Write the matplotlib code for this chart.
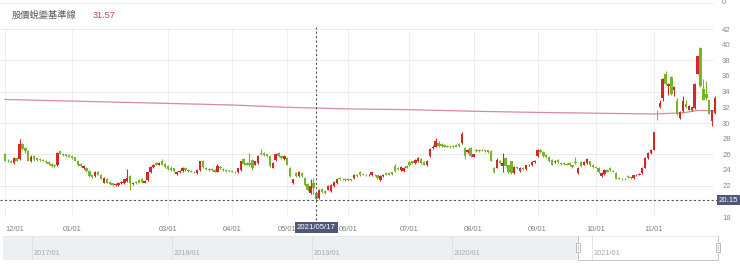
import numpy as np
import pandas as pd
import matplotlib
matplotlib.use('Agg')
import matplotlib.pyplot as plt
from matplotlib.patches import Rectangle
from matplotlib.transforms import blended_transform_factory

# ---------------- data ----------------
start_date = '2020-12-01'
end_date = '2021-11-30'
holidays = ['2021-01-01', '2021-02-08', '2021-02-09', '2021-02-10', '2021-02-11',
            '2021-02-12', '2021-02-15', '2021-02-16', '2021-03-01', '2021-04-02',
            '2021-04-05', '2021-04-30', '2021-06-14', '2021-09-20', '2021-09-21',
            '2021-10-11']

open_ = [
    # Dec
    26.0, 25.2, 25.1, 24.9, 25.5, 25.4, 27.3, 26.8, 26.4, 25.1, 25.8, 25.5, 25.4, 25.3, 25.2, 25.0, 24.8, 24.7, 24.6, 26.4, 26.1, 26.0, 25.9,
    # Jan
    25.8, 25.6, 25.2, 24.8, 24.2, 24.3, 23.9, 23.3, 23.2, 23.8, 23.4, 22.4, 22.9, 22.5, 22.3, 22.1, 22.1, 22.3, 22.3, 22.6,
    # Feb
    23.2, 22.2, 22.5, 22.7, 22.9, 22.4, 22.7, 23.7, 24.4, 24.9, 24.7, 25.1, 24.8,
    # Mar
    24.5, 24.3, 24.2, 23.5, 23.8, 23.9, 24.3, 24.0, 23.9, 23.8, 23.6, 24.0, 25.1, 24.3, 24.1, 24.1, 24.0, 23.8, 24.4, 24.1, 24.0, 23.9,
    # Apr
    23.9, 23.8, 23.7, 24.0, 25.4, 24.9, 24.9, 25.3, 24.7, 24.9, 26.2, 26.2, 26.0, 25.8, 24.3, 25.3, 26.2, 25.8, 25.4,
    # May
    25.5, 24.3, 22.3, 23.6, 23.2, 23.6, 23.0, 22.2, 21.1, 22.3, 21.1, 20.4, 21.6, 21.3, 21.5, 21.3, 21.9, 22.3, 23.0, 22.9, 22.9,
    # Jun
    22.9, 22.8, 23.0, 23.3, 23.8, 23.4, 23.4, 23.3, 23.3, 23.4, 23.3, 22.7, 23.2, 23.6, 23.6, 23.7, 24.5, 24.3, 24.0, 23.9, 24.5,
    # Jul
    25.0, 25.1, 24.9, 25.1, 25.4, 25.0, 24.6, 25.8, 26.8, 27.0, 27.5, 27.3, 27.2, 27.1, 27.0, 27.1, 27.2, 27.3, 27.4, 26.8, 26.3, 26.8,
    # Aug
    25.7, 26.6, 26.6, 26.6, 26.5, 26.5, 26.4, 24.3, 24.3, 25.2, 24.5, 25.5, 24.6, 25.1, 23.6, 24.4, 23.9, 24.3, 24.1, 24.6, 24.6, 25.0,
    # Sep
    25.8, 26.6, 26.3, 25.9, 25.7, 25.3, 25.0, 25.3, 24.9, 24.9, 24.8, 24.9, 24.6, 25.0, 23.6, 25.0, 24.7, 24.9, 25.1, 24.7,
    # Oct
    24.4, 24.3, 23.2, 23.5, 24.0, 24.3, 23.9, 23.6, 23.0, 22.9, 22.9, 23.2, 23.1, 23.0, 23.3, 23.4, 23.6, 24.3, 25.5, 26.2,
    # Nov
    26.6, 31.6, 32.0, 33.2, 36.3, 34.7, 35.9, 34.2, 32.8, 30.7, 31.5, 32.4, 31.7, 31.6, 31.9, 36.3, 39.6, 34.3, 33.7, 32.9, 30.2, 31.3,
]
high = [
    26.2, 25.4, 25.3, 25.6, 25.6, 27.9, 27.5, 27.0, 26.5, 25.9, 25.9, 25.6, 25.5, 25.4, 25.3, 25.1, 24.9, 24.8, 26.3, 26.6, 26.2, 26.1, 26.0,
    25.9, 25.7, 25.3, 24.9, 24.6, 24.4, 24.0, 23.4, 23.9, 23.9, 23.5, 23.1, 23.0, 22.6, 22.4, 22.3, 22.5, 22.6, 22.9, 24.1,
    23.3, 22.5, 22.6, 22.8, 23.0, 22.7, 23.8, 24.5, 24.8, 25.0, 25.0, 25.4, 24.9,
    24.6, 24.5, 24.3, 23.9, 24.0, 24.4, 24.4, 24.1, 24.0, 23.9, 24.1, 25.2, 25.3, 24.4, 24.2, 24.2, 24.1, 24.8, 24.5, 24.2, 24.1, 24.0,
    24.0, 23.9, 24.3, 25.2, 25.5, 25.0, 26.2, 25.4, 25.2, 25.9, 26.7, 26.3, 26.1, 25.9, 25.0, 26.1, 26.3, 25.9, 25.9,
    25.6, 24.4, 22.9, 23.7, 23.9, 23.7, 23.1, 22.3, 22.9, 23.0, 21.2, 21.6, 21.7, 21.4, 22.1, 22.2, 22.6, 22.9, 23.1, 23.0, 23.0,
    23.0, 22.9, 23.5, 23.5, 23.9, 23.5, 23.5, 23.5, 23.8, 23.5, 23.4, 23.3, 23.5, 23.7, 23.7, 23.8, 24.8, 24.4, 24.5, 24.4, 24.6,
    25.1, 25.2, 25.4, 25.6, 25.5, 25.1, 25.3, 26.8, 27.2, 28.1, 27.7, 27.4, 27.3, 27.2, 27.2, 27.2, 27.3, 27.4, 28.8, 26.9, 26.7, 26.9,
    26.1, 26.7, 26.7, 26.7, 26.6, 26.6, 26.5, 24.4, 25.5, 25.3, 26.2, 25.6, 24.7, 25.2, 24.5, 24.5, 24.4, 24.4, 24.7, 24.8, 25.1, 25.3,
    26.7, 26.7, 26.4, 26.0, 25.8, 25.4, 25.3, 25.4, 25.0, 25.0, 24.9, 25.0, 24.7, 25.6, 24.4, 25.1, 25.1, 25.5, 25.2, 24.8,
    24.5, 24.4, 23.7, 24.1, 24.1, 24.4, 24.0, 23.7, 23.1, 23.0, 23.0, 23.3, 23.2, 23.4, 23.5, 23.6, 24.4, 25.6, 26.3, 26.7,
    28.9, 31.6, 32.9, 35.8, 36.6, 35.1, 36.0, 34.7, 33.2, 31.5, 33.5, 33.0, 32.3, 32.1, 35.1, 38.6, 39.7, 35.6, 35.4, 33.0, 31.7, 33.5,
]
low = [
    25.1, 25.0, 24.9, 24.8, 25.1, 25.3, 26.5, 26.2, 25.1, 25.0, 25.2, 25.2, 25.2, 25.1, 24.9, 24.7, 24.4, 24.4, 24.5, 26.0, 25.8, 25.7, 25.6,
    25.4, 25.1, 24.5, 24.4, 24.1, 23.8, 23.1, 23.0, 23.1, 23.3, 22.8, 22.3, 22.3, 22.1, 22.0, 22.0, 22.0, 22.2, 22.2, 22.5,
    21.5, 22.1, 22.2, 22.3, 22.4, 22.3, 22.6, 23.6, 24.3, 24.6, 24.6, 24.6, 24.3,
    24.0, 23.9, 23.8, 23.4, 23.6, 23.8, 23.9, 23.8, 23.7, 23.6, 23.5, 23.9, 24.3, 24.0, 23.9, 23.9, 23.7, 23.7, 24.1, 23.9, 23.8, 23.8,
    23.7, 23.6, 23.6, 23.9, 24.7, 24.6, 24.5, 24.0, 24.6, 24.8, 25.9, 25.8, 25.7, 24.4, 24.2, 25.2, 25.7, 25.4, 25.3,
    24.6, 23.1, 22.2, 23.1, 23.1, 23.1, 22.0, 21.3, 21.0, 20.9, 20.15, 20.3, 21.1, 21.0, 21.4, 21.2, 21.8, 22.2, 22.7, 22.7, 22.6,
    22.6, 22.6, 22.9, 23.1, 23.2, 23.3, 23.2, 23.2, 23.2, 23.2, 22.9, 22.6, 23.1, 23.3, 23.3, 23.4, 23.8, 24.0, 23.9, 23.8, 24.2,
    24.5, 24.8, 24.8, 25.0, 24.8, 24.6, 24.5, 25.7, 26.7, 26.9, 27.0, 27.0, 26.9, 26.9, 26.8, 26.8, 26.9, 27.0, 27.3, 25.4, 26.2, 25.7,
    25.6, 26.3, 26.3, 26.4, 26.3, 26.2, 25.1, 23.6, 24.2, 24.8, 23.8, 24.4, 23.6, 23.5, 23.5, 24.1, 23.8, 24.0, 24.0, 24.5, 24.5, 24.9,
    25.7, 26.2, 25.7, 25.5, 25.0, 24.6, 24.9, 24.9, 24.7, 24.7, 24.6, 24.5, 24.3, 24.8, 23.5, 24.4, 24.6, 24.8, 24.5, 24.3,
    24.2, 23.6, 23.1, 23.4, 23.7, 23.9, 23.7, 22.8, 22.8, 22.7, 22.7, 23.0, 22.9, 22.9, 23.2, 23.3, 23.5, 24.2, 25.4, 26.1,
    26.5, 30.4, 31.9, 32.8, 34.9, 33.6, 33.6, 33.5, 31.0, 30.5, 31.4, 31.9, 31.6, 31.5, 31.8, 36.2, 34.6, 32.9, 33.0, 31.1, 29.6, 31.2,
]
close = [
    25.2, 25.1, 25.0, 25.5, 25.2, 27.3, 26.7, 26.4, 25.2, 25.7, 25.4, 25.3, 25.3, 25.2, 25.0, 24.8, 24.5, 24.5, 26.2, 26.1, 25.9, 25.8, 25.7,
    25.5, 25.2, 24.6, 24.5, 24.5, 23.9, 23.2, 23.1, 23.8, 23.4, 22.9, 23.0, 22.4, 22.2, 22.1, 22.2, 22.4, 22.5, 22.8, 23.0,
    22.3, 22.4, 22.3, 22.4, 22.5, 22.6, 23.7, 24.4, 24.7, 24.7, 24.9, 24.7, 24.4,
    24.1, 24.0, 23.9, 23.8, 23.9, 24.3, 24.0, 23.9, 23.8, 23.7, 24.0, 25.1, 24.4, 24.1, 24.0, 24.0, 23.8, 24.5, 24.2, 24.0, 23.9, 23.9,
    23.8, 23.7, 24.2, 25.1, 24.8, 24.7, 24.6, 24.3, 25.1, 25.8, 26.0, 25.9, 25.8, 24.5, 24.9, 26.0, 25.8, 25.5, 25.8,
    24.7, 23.2, 22.9, 23.2, 23.8, 23.2, 22.1, 21.4, 21.9, 21.7, 20.3, 21.5, 21.2, 21.1, 22.0, 22.1, 22.5, 22.8, 22.8, 22.8, 22.7,
    22.7, 22.7, 23.4, 23.2, 23.3, 23.4, 23.3, 23.4, 23.7, 23.3, 23.0, 23.2, 23.4, 23.4, 23.4, 23.5, 23.9, 24.1, 24.4, 24.3, 24.3,
    24.6, 24.9, 25.3, 25.5, 24.9, 24.7, 25.2, 26.7, 27.0, 27.7, 27.1, 27.1, 27.0, 27.0, 26.9, 26.9, 27.0, 27.1, 28.6, 25.8, 26.6, 25.8,
    26.0, 26.4, 26.4, 26.5, 26.4, 26.3, 25.2, 23.7, 25.3, 24.9, 24.9, 24.5, 23.8, 23.6, 24.4, 24.2, 24.3, 24.1, 24.6, 24.7, 25.0, 25.2,
    26.6, 26.3, 25.8, 25.6, 25.1, 24.7, 25.2, 25.0, 24.8, 24.8, 24.7, 24.6, 24.4, 24.9, 24.3, 24.5, 25.0, 25.4, 24.6, 24.4,
    24.3, 23.7, 23.6, 24.0, 23.8, 24.0, 23.8, 22.9, 22.9, 22.8, 22.8, 23.1, 23.0, 23.3, 23.4, 23.5, 24.3, 25.5, 26.2, 26.6,
    28.8, 31.6, 32.6, 35.6, 35.0, 35.0, 33.7, 34.6, 31.1, 31.4, 32.8, 32.0, 32.2, 32.0, 35.0, 38.5, 34.7, 33.0, 33.2, 31.2, 31.6, 33.2,
]

# 股價蛻變基準線 (reference line) values at anchor dates
base_dates = ['2020-12-01', '2021-01-04', '2021-03-02', '2021-04-01', '2021-05-03',
              '2021-06-01', '2021-07-01', '2021-08-02', '2021-09-01', '2021-10-01',
              '2021-11-01', '2021-11-15', '2021-11-22', '2021-11-30']
base_values = [33.0, 32.8, 32.5, 32.3, 32.0, 31.8, 31.7, 31.5, 31.35, 31.25,
               31.15, 31.3, 31.6, 31.57]

month_labels = ['12/01', '01/01', '03/01', '04/01', '05/01', '06/01',
                '07/01', '08/01', '09/01', '10/01', '11/01']
y_ticks = [18, 20, 22, 24, 26, 28, 30, 32, 34, 36, 38, 40, 42]
grid_levels = [18, 22, 26, 30, 34, 38, 42]
nav_years = [2017, 2018, 2019, 2020, 2021]
nav_labels = ['2017/01', '2018/01', '2019/01', '2020/01', '2021/01']
nav_window = [2020.9, 2021.9]

header_label = '股價蛻變基準線'
header_value = '31.57'
cross_date = '2021-05-17'
cross_price = 20.15

# ---------------- build ----------------
dates = pd.bdate_range(start_date, end_date)
dates = dates[~dates.isin(pd.to_datetime(holidays))]
n = len(dates)
x = np.arange(n)
o = np.array(open_); h = np.array(high); l = np.array(low); c = np.array(close)

RED = '#cf2a26'
GREEN = '#76b52a'
cols = np.where(c > o, RED, np.where(c < o, GREEN, '#8fae6a'))

W, H = 740, 270
fig = plt.figure(figsize=(W / 100, H / 100), dpi=100)
fig.patch.set_facecolor('white')

LATIN = ['Liberation Sans', 'DejaVu Sans']
CJK = ['Noto Sans CJK TC', 'DejaVu Sans']

px_per_day = 2.91
x0 = 5
left_lim = -x0 / px_per_day
right_px = 718
right_lim = (right_px - x0) / px_per_day

ax = fig.add_axes([0, 1 - 217 / H, right_px / W, (217 - 29) / H])
ax.set_xlim(left_lim, right_lim)
ax.set_ylim(18, 42)
for s in ax.spines.values():
    s.set_visible(False)

grid_end = (713 - x0) / px_per_day
ax.hlines(grid_levels, left_lim, grid_end, colors='#e9e9e9', lw=0.7, zorder=0)

# month ticks: first trading day of each month
tick_pos = []
for lab in month_labels:
    m = int(lab[:2])
    idx = np.where(dates.month == m)[0][0]
    tick_pos.append(idx)
ax.vlines(tick_pos, 18, 42, colors='#efefef', lw=0.7, zorder=0)
ax.set_xticks(tick_pos)
ax.set_xticklabels(month_labels, fontsize=5.4, color='#808080', family=LATIN)
ax.tick_params(axis='x', length=0, pad=6.5)
first_lab = ax.get_xticklabels()[0]
first_lab.set_ha('left')
first_lab.set_x(left_lim)

ax.yaxis.tick_right()
ax.set_yticks(y_ticks)
ax.set_yticklabels(['' if v == 20 else str(v) for v in y_ticks], fontsize=5.6,
                   color='#8a8a8a', family=LATIN)
ax.tick_params(axis='y', length=0, pad=3)

# baseline line
base_idx = [int(np.where(dates == pd.Timestamp(d))[0][0]) for d in base_dates]
ax.plot(base_idx, base_values, color='#d88a9f', lw=0.9, zorder=2)

# candles
ax.vlines(x, l, h, colors=cols, lw=0.8, zorder=3)
body = np.maximum(np.abs(c - o), 0.08)
ax.bar(x, body, bottom=np.minimum(o, c), width=0.82, color=cols, lw=0, zorder=4)

# crosshair
ci = int(np.where(dates == pd.Timestamp(cross_date))[0][0])
ax.plot([ci, ci], [17.6, 42.2], color='#555555', lw=0.8, ls=(0, (2, 2)), clip_on=False, zorder=6)
ax.plot([left_lim, right_lim], [cross_price, cross_price], color='#555555', lw=0.8,
        ls=(0, (2, 2)), clip_on=False, zorder=6)

box_style = dict(boxstyle='square,pad=0.25', fc='#4f5878', ec='none')
tr = blended_transform_factory(ax.transData, fig.transFigure)
ax.text(ci, 1 - 227.5 / H, pd.Timestamp(cross_date).strftime('%Y/%m/%d'), transform=tr,
        ha='center', va='center', fontsize=5.6, color='white', family=LATIN,
        bbox=box_style, zorder=10, clip_on=False)
fig.text(728.5 / W, 1 - 200 / H, f'{cross_price:.2f}', ha='center', va='center',
         fontsize=5.6, color='white', family=LATIN, bbox=box_style, zorder=10)

# header
fig.text(12 / W, 1 - 15 / H, header_label, ha='left', va='center', fontsize=6.7,
         color='#5a5a5a', family=CJK)
fig.text(93 / W, 1 - 15 / H, header_value, ha='left', va='center', fontsize=6.6,
         color='#b3486c', family=LATIN)
fig.add_artist(plt.Line2D([0, 713 / W], [1 - 2.5 / H, 1 - 2.5 / H], color='#ececec', lw=0.7))
fig.text(722 / W, 1 - 3 / H, '0', ha='left', va='center', fontsize=5.6, color='#8a8a8a', family=LATIN)

# navigator
nav_l, nav_r = 3, 718
nav = fig.add_axes([nav_l / W, 1 - 260 / H, (nav_r - nav_l) / W, 24 / H])
year_px = 140.0
nav_xmin = nav_years[0] - (32 - nav_l) / year_px
nav_xmax = nav_years[-1] + (nav_r - 592) / year_px
nav.set_xlim(nav_xmin, nav_xmax)
nav.set_ylim(0, 1)
nav.axis('off')
nav.axvspan(nav_xmin, nav_window[0], color='#edf0f3', lw=0, zorder=0)
nav.vlines(nav_years, 0, 1, colors='#dcdfe4', lw=0.6, zorder=1)
for yv, lab in zip(nav_years, nav_labels):
    nav.text(yv + 2 / year_px, 0.27, lab, fontsize=5.3, color='#a8a8a8', family=LATIN,
             ha='left', va='center')
nav.plot([nav_window[0], nav_window[0], nav_window[1], nav_window[1]], [1, 0.01, 0.01, 1],
         color='#c4c4c4', lw=0.7, clip_on=False, zorder=3)
nav.plot([nav_xmin, nav_window[1]], [1, 1], color='#e4e4e4', lw=0.5, zorder=2)
hw = 4 / year_px
for hx in nav_window:
    nav.add_patch(Rectangle((hx - hw / 2, 0.33), hw, 0.38, fc='white', ec='#b0b0b0',
                            lw=0.6, zorder=5, clip_on=False))
    nav.plot([hx, hx], [0.42, 0.62], color='#b0b0b0', lw=0.5, zorder=6, clip_on=False)

fig.savefig('out.png', dpi=100, facecolor='white')
